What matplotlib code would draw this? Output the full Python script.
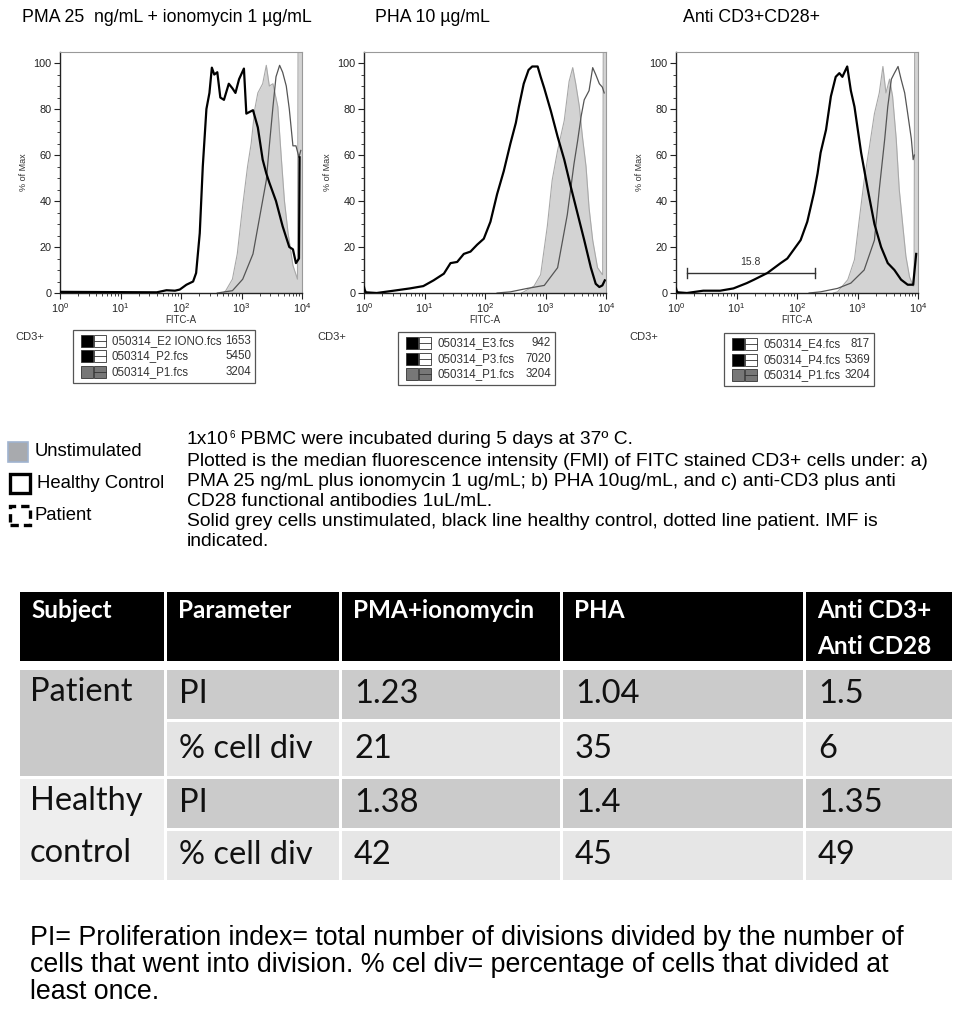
"""CD3+ proliferation histograms (FITC) with summary table."""
import numpy as np
import matplotlib.pyplot as plt
from matplotlib.patches import Rectangle
from matplotlib.ticker import LogLocator, MultipleLocator, NullFormatter

W, H = 957, 1016

# ---------------- data ----------------
titles = ['PMA 25  ng/mL + ionomycin 1 \u00b5g/mL', 'PHA 10 \u00b5g/mL', 'Anti CD3+CD28+']

# x as log10(FITC-A), y as % of Max
p1_unstim_x = [2.70, 2.74, 2.85, 2.93, 3.02, 3.10, 3.16, 3.22, 3.27, 3.35, 3.41, 3.46, 3.52,
               3.60, 3.66, 3.71, 3.77, 3.85, 3.925, 3.935, 4.0]
p1_unstim_y = [0, 1, 6, 17, 38, 55, 65, 80, 87, 91, 99, 90, 91, 81, 58, 40, 26, 12, 6, 110, 110]
p1_healthy_x = [0.0, 1.6, 1.76, 1.9, 1.98, 2.09, 2.2, 2.25, 2.31, 2.36, 2.42, 2.47, 2.51, 2.55,
                2.6, 2.65, 2.71, 2.79, 2.85, 2.9, 2.96, 3.04, 3.08, 3.19, 3.27, 3.35, 3.41,
                3.46, 3.57, 3.68, 3.79, 3.85, 3.9, 3.95, 3.96]
p1_healthy_y = [0.5, 0.3, 1.2, 1.0, 1.5, 3.6, 5, 8.7, 26, 55, 80, 87, 98, 95, 96, 85, 84, 91,
                89, 87, 93, 97.6, 78, 79.5, 72, 58, 52, 48, 40, 29, 20, 19, 13, 15, 59]
p1_patient_x = [2.6, 2.85, 3.02, 3.19, 3.30, 3.41, 3.46, 3.52, 3.57, 3.63, 3.68, 3.74, 3.79,
                3.85, 3.90, 3.95, 3.98]
p1_patient_y = [0, 1, 6, 17, 33, 49, 64, 81, 94, 99, 96, 90, 80, 64, 64, 59, 62]

p2_unstim_x = [2.6, 2.64, 2.81, 2.92, 3.03, 3.11, 3.20, 3.31, 3.39, 3.45, 3.50, 3.56, 3.61,
               3.67, 3.72, 3.78, 3.86, 3.94, 3.945, 3.955, 4.0]
p2_unstim_y = [0, 0.5, 3, 8, 29, 49, 62, 75, 92, 98, 91, 81, 68, 55, 37, 23, 11, 8, 8, 110, 110]
p2_healthy_x = [0.0, 0.01, 0.03, 0.21, 0.49, 0.76, 0.98, 1.15, 1.32, 1.43, 1.54, 1.65, 1.76,
                1.87, 1.98, 2.09, 2.20, 2.31, 2.42, 2.51, 2.56, 2.64, 2.72, 2.78, 2.87, 2.92,
                2.98, 3.09, 3.20, 3.31, 3.42, 3.53, 3.64, 3.75, 3.83, 3.89, 3.94, 3.98]
p2_healthy_y = [2.6, 1.5, 0.3, 0, 1, 2, 3, 5.5, 8.4, 13, 13.5, 17, 18, 21, 23.6, 31, 43, 53, 65,
                74, 81, 91, 97, 98.5, 98.5, 94, 89, 79, 68, 58, 46, 34.5, 23, 11, 4, 2.6, 3.3,
                5.5]
p2_patient_x = [2.2, 2.42, 2.70, 2.98, 3.20, 3.36, 3.47, 3.53, 3.59, 3.64, 3.72, 3.78, 3.83,
                3.89, 3.94, 3.97]
p2_patient_y = [0, 0.5, 2, 3.3, 11, 34, 56, 66, 77, 84, 88, 98, 95, 91, 89.5, 87]

p3_unstim_x = [2.6, 2.67, 2.84, 2.95, 3.03, 3.11, 3.20, 3.28, 3.36, 3.42, 3.47, 3.53, 3.58,
               3.64, 3.69, 3.75, 3.80, 3.86, 3.92, 3.935, 3.945, 4.0]
p3_unstim_y = [0, 0.5, 5.8, 14.5, 32, 49, 64, 78, 87, 98.5, 87, 93, 85.5, 67, 45, 29, 16, 7, 3,
               3, 110, 110]
p3_healthy_x = [0.0, 0.01, 0.03, 0.18, 0.45, 0.73, 0.95, 1.17, 1.29, 1.51, 1.73, 1.84, 1.95,
                2.06, 2.17, 2.28, 2.34, 2.39, 2.48, 2.56, 2.64, 2.70, 2.75, 2.83, 2.89, 2.95,
                3.06, 3.17, 3.28, 3.39, 3.50, 3.61, 3.72, 3.83, 3.92, 3.97]
p3_healthy_y = [2.0, 1.0, 0.3, 0, 1, 1, 2, 4.3, 5.8, 8.7, 13, 15, 19, 23, 31, 43.5, 52, 61, 71,
                85.5, 94, 95.6, 94, 98.5, 88, 81, 61, 45, 30, 20, 13, 10, 5.8, 3.6, 3.6, 17]
p3_patient_x = [2.2, 2.39, 2.67, 2.89, 3.11, 3.28, 3.36, 3.45, 3.50, 3.56, 3.61, 3.67, 3.72,
                3.78, 3.83, 3.89, 3.92, 3.94]
p3_patient_y = [0, 0.5, 2, 4.3, 10, 23, 45, 67, 81, 93, 95.6, 98.5, 93, 87, 78, 67, 58, 60]

# gate on panel 3 (log10 bounds, height, value)
gate_lo, gate_hi, gate_y, gate_label = 0.18, 2.29, 8.7, '15.8'

legend_files = [['050314_E2 IONO.fcs', '050314_P2.fcs', '050314_P1.fcs'],
                ['050314_E3.fcs', '050314_P3.fcs', '050314_P1.fcs'],
                ['050314_E4.fcs', '050314_P4.fcs', '050314_P1.fcs']]
legend_values = [['1653', '5450', '3204'],
                 ['942', '7020', '3204'],
                 ['817', '5369', '3204']]

table_header = [['Subject'], ['Parameter'], ['PMA+ionomycin'], ['PHA'], ['Anti CD3+', 'Anti CD28']]
table_subjects = [['Patient'], ['Healthy', 'control']]
table_params = ['PI', '% cell div', 'PI', '% cell div']
pma_values = ['1.23', '21', '1.38', '42']
pha_values = ['1.04', '35', '1.4', '45']
cd3_values = ['1.5', '6', '1.35', '49']

description = [' PBMC were incubated during 5 days at 37\u00ba C.',
               'Plotted is the median fluorescence intensity (FMI) of FITC stained CD3+ cells under: a)',
               'PMA 25 ng/mL plus ionomycin 1 ug/mL; b) PHA 10ug/mL, and c) anti-CD3 plus anti',
               'CD28 functional antibodies 1uL/mL.',
               'Solid grey cells unstimulated, black line healthy control, dotted line patient. IMF is',
               'indicated.']
footnote = ['PI= Proliferation index= total number of divisions divided by the number of',
            'cells that went into division. % cel div= percentage of cells that divided at',
            'least once.']

plt.rcParams['font.family'] = ['Liberation Sans', 'DejaVu Sans']


def fx(x):
    return x / W


def fy(y):
    return 1 - y / H


fig = plt.figure(figsize=(W / 100, H / 100), dpi=100)
renderer = fig.canvas.get_renderer()

panels = [
    (p1_unstim_x, p1_unstim_y, p1_healthy_x, p1_healthy_y, p1_patient_x, p1_patient_y),
    (p2_unstim_x, p2_unstim_y, p2_healthy_x, p2_healthy_y, p2_patient_x, p2_patient_y),
    (p3_unstim_x, p3_unstim_y, p3_healthy_x, p3_healthy_y, p3_patient_x, p3_patient_y),
]
ax_left = [60, 364, 676]
title_x = [22, 375, 683]
legend_box = [(73, 255, [341, 356, 372]), (398, 555, [343, 359, 374]), (724, 874, [344, 360, 375])]
cd3_x = [15, 317, 629]
ax_top, ax_bot, ax_w = 52, 293, 242

for i, (ux, uy, hx, hy, px_, py_) in enumerate(panels):
    ax = fig.add_axes([fx(ax_left[i]), fy(ax_bot), ax_w / W, (ax_bot - ax_top) / H])
    ax.set_xscale('log')
    ax.fill_between(10 ** np.array(ux), uy, color='#d3d3d3', lw=0, zorder=1)
    ax.plot(10 ** np.array(ux), uy, color='#a8a8a8', lw=0.8, zorder=2)
    ax.plot(10 ** np.array(px_), py_, color='#555555', lw=0.9, zorder=3)
    ax.plot(10 ** np.array(hx), hy, color='black', lw=1.6, zorder=4)
    ax.set_xlim(1, 1e4)
    ax.set_ylim(0, 104.8)
    ax.yaxis.set_major_locator(MultipleLocator(20))
    ax.yaxis.set_minor_locator(MultipleLocator(5))
    ax.xaxis.set_major_locator(LogLocator(base=10, numticks=10))
    ax.xaxis.set_minor_locator(LogLocator(base=10, subs=np.arange(2, 10), numticks=10))
    ax.xaxis.set_minor_formatter(NullFormatter())
    ax.tick_params(axis='both', which='major', labelsize=7.8, length=4, width=0.8,
                   colors='#222222', pad=2)
    ax.tick_params(axis='both', which='minor', length=2, width=0.6, colors='#222222')
    for s in ['top', 'right']:
        ax.spines[s].set_color('#999999')
        ax.spines[s].set_linewidth(0.8)
    for s in ['left', 'bottom']:
        ax.spines[s].set_color('#222222')
        ax.spines[s].set_linewidth(1.0)
    ax.set_ylabel('% of Max', fontsize=6.5, color='#333333', labelpad=4)
    ax.set_xlabel('FITC-A', fontsize=7, color='#333333', labelpad=0)
    fig.text(fx(title_x[i]), fy(18), titles[i], fontsize=12.8, va='center', ha='left')
    fig.text(fx(cd3_x[i]), fy(337), 'CD3+', fontsize=8, va='center', ha='left',
             color='#333333')

    # sample legend box
    bx0, bx1, rows = legend_box[i]
    by0, by1 = rows[0] - 11, rows[-1] + 11
    fig.add_artist(Rectangle((fx(bx0), fy(by1)), (bx1 - bx0) / W, (by1 - by0) / H,
                             transform=fig.transFigure, facecolor='white',
                             edgecolor='#555555', lw=0.9))
    swatch_fill = ['black', 'black', '#777777']
    for r, yc in enumerate(rows):
        fig.add_artist(Rectangle((fx(bx0 + 8), fy(yc + 6)), 12 / W, 12 / H,
                                 transform=fig.transFigure, facecolor=swatch_fill[r],
                                 edgecolor='#333333', lw=0.6))
        fig.add_artist(Rectangle((fx(bx0 + 21), fy(yc + 6)), 12 / W, 12 / H,
                                 transform=fig.transFigure,
                                 facecolor='#777777' if r == 2 else 'white',
                                 edgecolor='#333333', lw=0.6))
        fig.add_artist(plt.Line2D([fx(bx0 + 21), fx(bx0 + 33)], [fy(yc), fy(yc)],
                                  transform=fig.transFigure, color='#333333', lw=0.6))
        fig.text(fx(bx0 + 39), fy(yc), legend_files[i][r], fontsize=8.3, va='center',
                 ha='left', color='#333333')
        fig.text(fx(bx1 - 4), fy(yc), legend_values[i][r], fontsize=8.3, va='center',
                 ha='right', color='#333333')

    if i == 2:
        ax.plot([10 ** gate_lo, 10 ** gate_hi], [gate_y, gate_y], color='#333333', lw=1.0)
        for gx in (gate_lo, gate_hi):
            ax.plot([10 ** gx, 10 ** gx], [gate_y - 2, gate_y + 2], color='#333333', lw=1.0)
        ax.text(10 ** ((gate_lo + gate_hi) / 2), gate_y + 2.5, gate_label, fontsize=7.5,
                ha='center', va='bottom', color='#333333')

# ---------------- lower-left legend ----------------
fig.add_artist(Rectangle((fx(8), fy(462)), 20 / W, 20 / H, transform=fig.transFigure,
                         facecolor='#a8aaae', edgecolor='#9fb3cf', lw=1.2))
fig.add_artist(Rectangle((fx(10), fy(493)), 20 / W, 19 / H, transform=fig.transFigure,
                         facecolor='white', edgecolor='black', lw=2.4))
fig.add_artist(Rectangle((fx(10), fy(525)), 20 / W, 19 / H, transform=fig.transFigure,
                         facecolor='white', edgecolor='black', lw=2.4, ls=(0, (2.5, 1.5))))
for lbl, yc, xx in [('Unstimulated', 452, 35), ('Healthy Control', 484, 37), ('Patient', 516, 35)]:
    fig.text(fx(xx), fy(yc), lbl, fontsize=13.3, va='center', ha='left')

# first description line carries a small superscript: 1x10^6
t0 = fig.text(fx(187), fy(440), '1x10', fontsize=13.9, va='center', ha='left')
x_end = t0.get_window_extent(renderer).x1
t1 = fig.text(x_end / W + 0.5 / W, fy(435), '6', fontsize=7, va='center', ha='left')
x_end = t1.get_window_extent(renderer).x1
fig.text(x_end / W, fy(440), description[0], fontsize=13.9, va='center', ha='left')
for line, yc in zip(description[1:], [461, 481, 501, 521, 541]):
    fig.text(fx(187), fy(yc), line, fontsize=13.9, va='center', ha='left')

# ---------------- table ----------------
tab = fig.add_axes([0, 0, 1, 1])
tab.set_xlim(0, W)
tab.set_ylim(H, 0)
tab.axis('off')
col_edges = [18, 165, 340, 561, 804, 953]
row_edges = [590, 662, 668, 720, 777, 829, 881]
gap = 1.5


def cell(x0, x1, y0, y1, color):
    tab.add_patch(Rectangle((x0 + gap, y0 + gap), x1 - x0 - 2 * gap, y1 - y0 - 2 * gap,
                            facecolor=color, edgecolor='none'))


for c in range(5):
    cell(col_edges[c], col_edges[c + 1], row_edges[0], row_edges[1], 'black')
    for k, line in enumerate(table_header[c]):
        tab.text(col_edges[c] + 13, 611 + 35 * k, line, color='white',
                 fontsize=17.5, fontweight='bold', family='Lato', va='center', ha='left')

subject_colors = ['#c9c9c9', '#eeeeee']
row_colors = ['#cbcbcb', '#e4e4e4', '#cbcbcb', '#e6e6e6']
body_rows = list(zip(table_params, pma_values, pha_values, cd3_values))
for s in range(2):
    y0, y1 = row_edges[2 + 2 * s], row_edges[4 + 2 * s]
    cell(col_edges[0], col_edges[1], y0, y1, subject_colors[s])
    for k, line in enumerate(table_subjects[s]):
        r = 2 * s + k
        tab.text(col_edges[0] + 12, (row_edges[2 + r] + row_edges[3 + r]) / 2 - 2, line,
                 fontsize=23.5, family='Lato', va='center', ha='left', color='#111111')
for r, vals in enumerate(body_rows):
    y0, y1 = row_edges[2 + r], row_edges[3 + r]
    for c in range(4):
        cell(col_edges[c + 1], col_edges[c + 2], y0, y1, row_colors[r])
        tab.text(col_edges[c + 1] + 14, (y0 + y1) / 2, vals[c], fontsize=23.5, family='Lato',
                 va='center', ha='left', color='#111111')

for line, yc in zip(footnote, [938, 965, 992]):
    fig.text(fx(30), fy(yc), line, fontsize=19.3, va='center', ha='left')

fig.savefig('out.png', dpi=100)
